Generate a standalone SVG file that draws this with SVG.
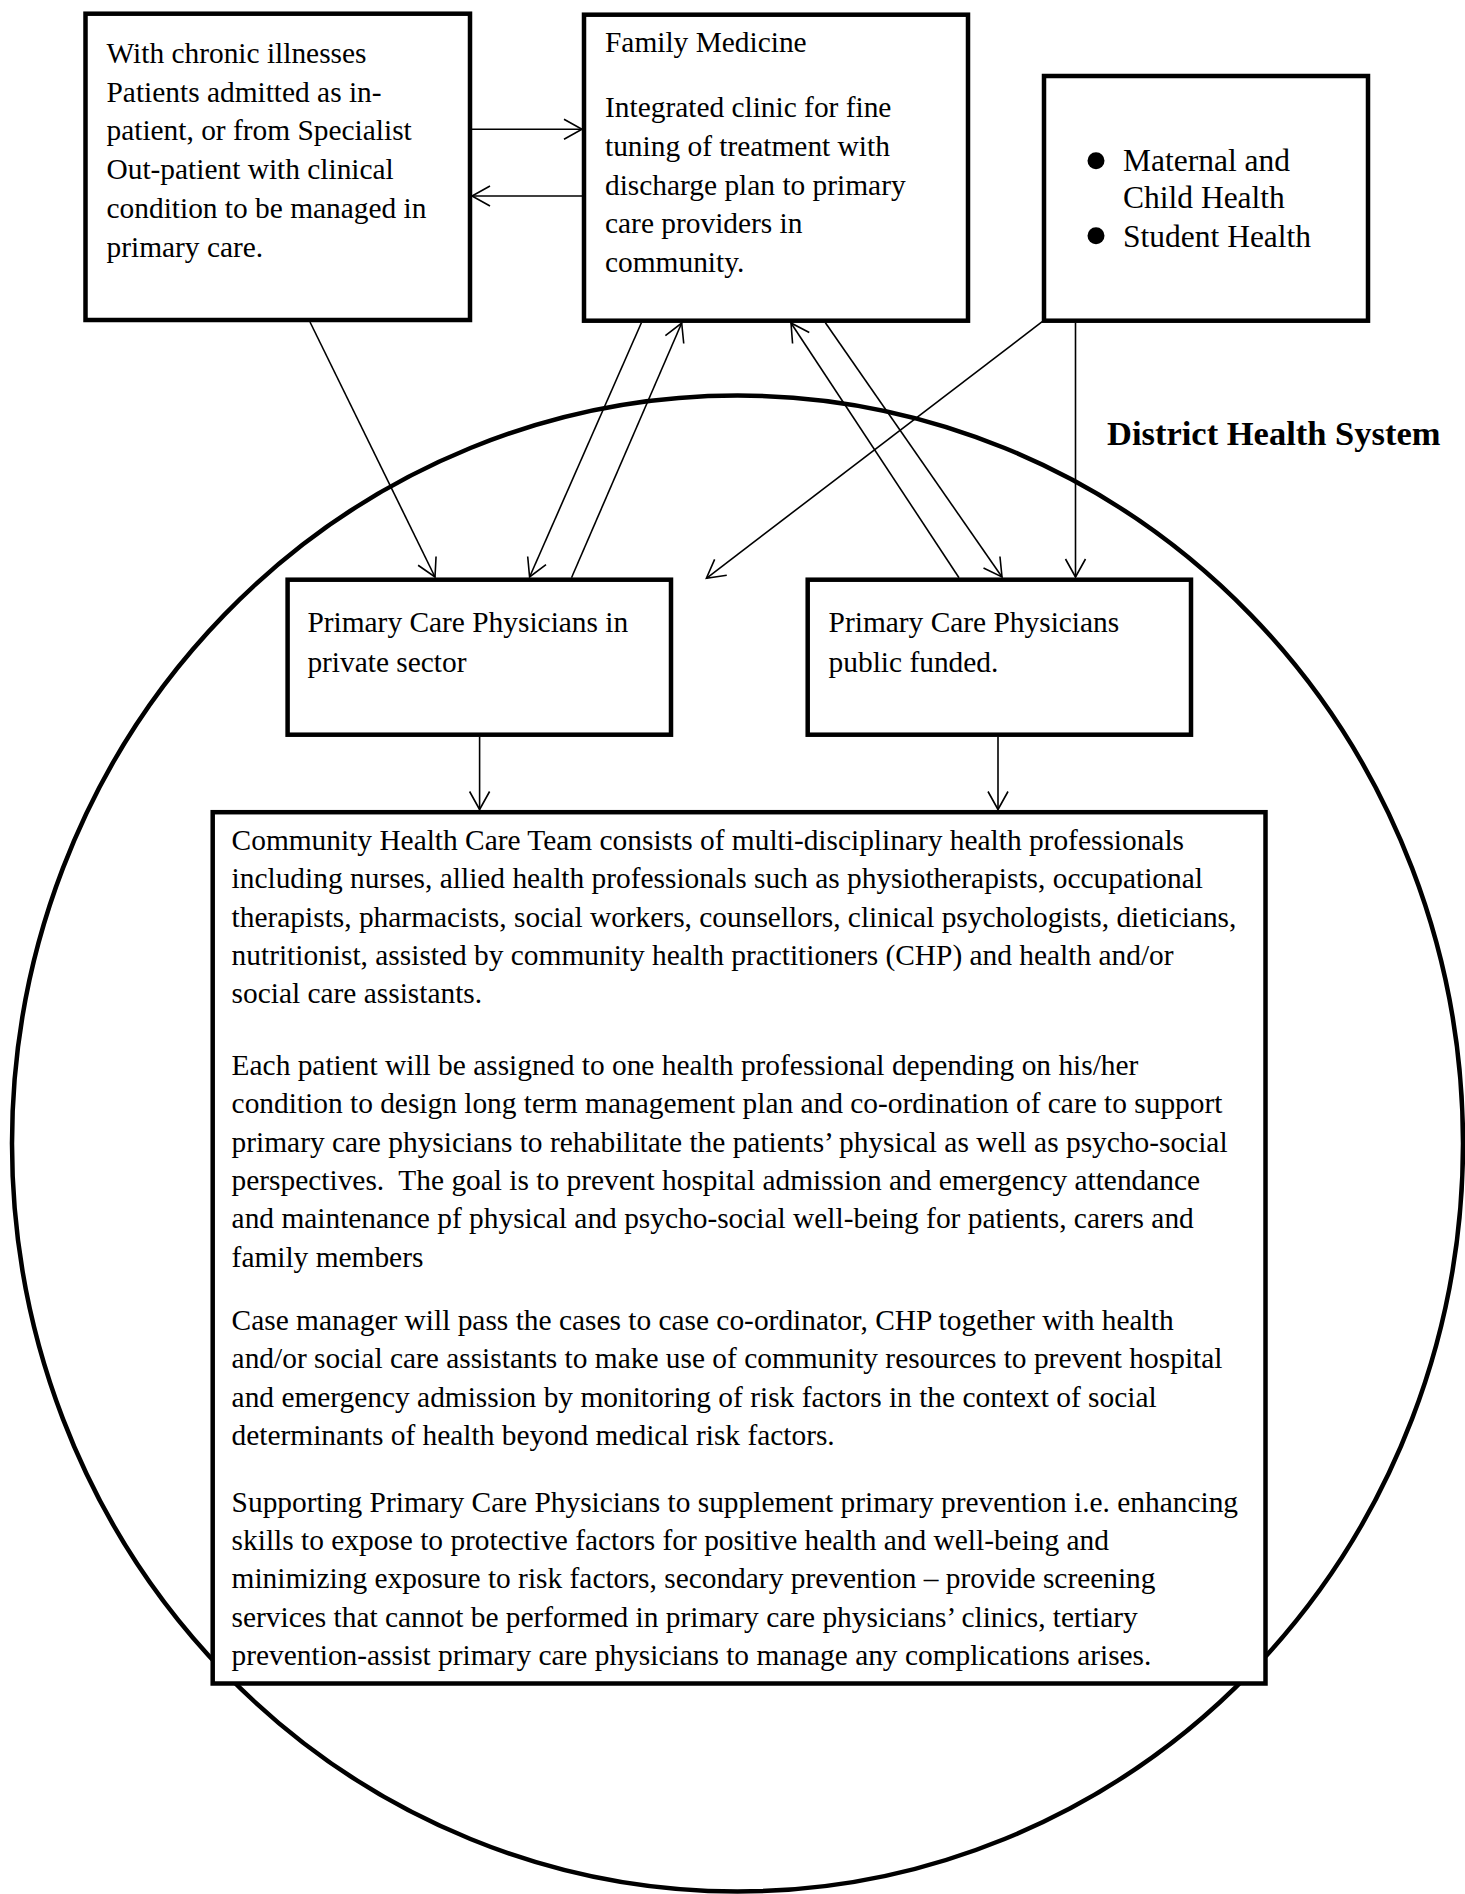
<svg xmlns="http://www.w3.org/2000/svg" width="1465" height="1894" viewBox="0 0 1465 1894">
<style>
.box{fill:#fff;stroke:#000;stroke-width:4.5}
.t{font-family:"Liberation Serif","Times New Roman",serif;font-size:29.4px;fill:#000;white-space:pre}
.b{font-size:31.5px}
.h{font-family:"Liberation Serif","Times New Roman",serif;font-size:34.5px;font-weight:bold;fill:#000}
.c{stroke:#000;stroke-width:1.6;fill:none;marker-end:url(#ah)}
</style>
<defs>
<marker id="ah" viewBox="-20 -12 22 24" refX="0" refY="0" markerWidth="22" markerHeight="24" markerUnits="userSpaceOnUse" orient="auto" overflow="visible">
<path d="M-18,-10 L0,0 L-18,10" fill="none" stroke="#000" stroke-width="1.6"/>
</marker>
</defs>
<rect width="1465" height="1894" fill="#fff"/>
<ellipse id="district-circle" cx="737.5" cy="1143.5" rx="725.5" ry="748" fill="none" stroke="#000" stroke-width="4.5"/>
<text class="h" x="1107" y="445">District Health System</text>
<g id="connectors">
<line class="c" x1="472" y1="129.3" x2="582" y2="129.3"/>
<line class="c" x1="582" y1="196" x2="472" y2="196"/>
<line class="c" x1="310" y1="322" x2="435" y2="577"/>
<line class="c" x1="641.4" y1="322.7" x2="529.6" y2="577"/>
<line class="c" x1="571.5" y1="577.7" x2="681.7" y2="323"/>
<line class="c" x1="959" y1="577.7" x2="791" y2="323"/>
<line class="c" x1="825.4" y1="322.7" x2="1002" y2="577"/>
<line class="c" x1="1042.2" y1="321.7" x2="706.4" y2="578.3"/>
<line class="c" x1="1075.5" y1="322.7" x2="1075.5" y2="577"/>
<line class="c" x1="479.6" y1="736.7" x2="479.6" y2="809.5"/>
<line class="c" x1="998" y1="736.7" x2="998" y2="809.5"/>
</g>
<g id="chronic-patients">
<rect class="box" x="85.5" y="13.7" width="384.5" height="306.3"/>
<text class="t" x="106.5"><tspan x="106.5" y="63">With chronic illnesses</tspan><tspan x="106.5" y="101.7">Patients admitted as in-</tspan><tspan x="106.5" y="140.4">patient, or from Specialist</tspan><tspan x="106.5" y="179.1">Out-patient with clinical</tspan><tspan x="106.5" y="217.8">condition to be managed in</tspan><tspan x="106.5" y="256.5">primary care.</tspan></text>
</g>
<g id="family-medicine">
<rect class="box" x="584" y="14.7" width="384" height="306"/>
<text class="t"><tspan x="605" y="52">Family Medicine</tspan><tspan x="605" y="117.3">Integrated clinic for fine</tspan><tspan x="605" y="155.9">tuning of treatment with</tspan><tspan x="605" y="194.5">discharge plan to primary</tspan><tspan x="605" y="233.1">care providers in</tspan><tspan x="605" y="271.7">community.</tspan></text>
</g>
<g id="maternal-student">
<rect class="box" x="1044" y="76" width="324" height="244.7"/>
<circle cx="1096" cy="160.8" r="8.5" fill="#000"/>
<circle cx="1096" cy="235.8" r="8.5" fill="#000"/>
<text class="t b"><tspan x="1123" y="171">Maternal and</tspan><tspan x="1123" y="208.3">Child Health</tspan><tspan x="1123" y="246.7">Student Health</tspan></text>
</g>
<g id="pcp-private">
<rect class="box" x="287.6" y="579.7" width="383.4" height="155"/>
<text class="t"><tspan x="307.4" y="631.7">Primary Care Physicians in</tspan><tspan x="307.4" y="671.7">private sector</tspan></text>
</g>
<g id="pcp-public">
<rect class="box" x="807.7" y="579.7" width="383.3" height="155"/>
<text class="t"><tspan x="828.6" y="631.7">Primary Care Physicians</tspan><tspan x="828.6" y="671.7">public funded.</tspan></text>
</g>
<g id="community-team">
<rect class="box" x="212.7" y="812.2" width="1052.8" height="871.3"/>
<text class="t">
<tspan x="231.6" y="850">Community Health Care Team consists of multi-disciplinary health professionals</tspan>
<tspan x="231.6" y="888.3">including nurses, allied health professionals such as physiotherapists, occupational</tspan>
<tspan x="231.6" y="926.7">therapists, pharmacists, social workers, counsellors, clinical psychologists, dieticians,</tspan>
<tspan x="231.6" y="965">nutritionist, assisted by community health practitioners (CHP) and health and/or</tspan>
<tspan x="231.6" y="1003.3">social care assistants.</tspan>
<tspan x="231.6" y="1075">Each patient will be assigned to one health professional depending on his/her</tspan>
<tspan x="231.6" y="1113.3">condition to design long term management plan and co-ordination of care to support</tspan>
<tspan x="231.6" y="1151.7">primary care physicians to rehabilitate the patients’ physical as well as psycho-social</tspan>
<tspan x="231.6" y="1190">perspectives.  The goal is to prevent hospital admission and emergency attendance</tspan>
<tspan x="231.6" y="1228.3">and maintenance pf physical and psycho-social well-being for patients, carers and</tspan>
<tspan x="231.6" y="1266.7">family members</tspan>
<tspan x="231.6" y="1330">Case manager will pass the cases to case co-ordinator, CHP together with health</tspan>
<tspan x="231.6" y="1368.3">and/or social care assistants to make use of community resources to prevent hospital</tspan>
<tspan x="231.6" y="1406.7">and emergency admission by monitoring of risk factors in the context of social</tspan>
<tspan x="231.6" y="1445">determinants of health beyond medical risk factors.</tspan>
<tspan x="231.6" y="1511.7">Supporting Primary Care Physicians to supplement primary prevention i.e. enhancing</tspan>
<tspan x="231.6" y="1550">skills to expose to protective factors for positive health and well-being and</tspan>
<tspan x="231.6" y="1588.3">minimizing exposure to risk factors, secondary prevention – provide screening</tspan>
<tspan x="231.6" y="1626.7">services that cannot be performed in primary care physicians’ clinics, tertiary</tspan>
<tspan x="231.6" y="1665">prevention-assist primary care physicians to manage any complications arises.</tspan>
</text>
</g>
</svg>
